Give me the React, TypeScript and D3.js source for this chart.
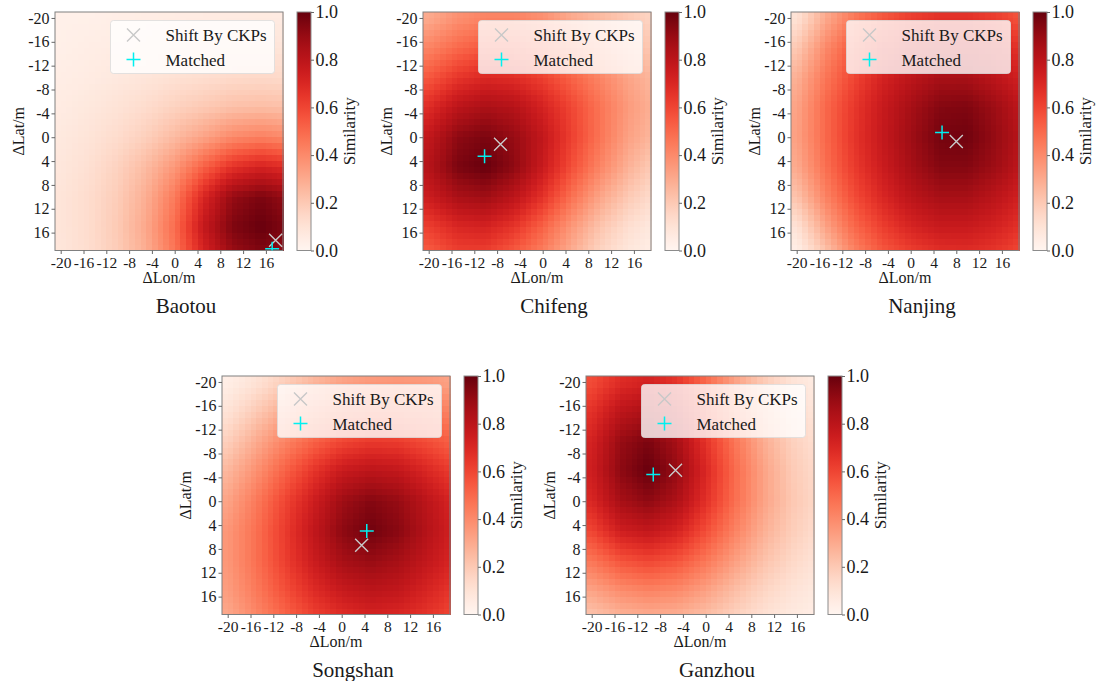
import React, { useEffect, useRef } from 'react';
import * as d3 from 'd3';

// Similarity surfaces at a 5 m node grid (rows = ΔLat, cols = ΔLon)
const sites = ['Baotou', 'Chifeng', 'Nanjing', 'Songshan', 'Ganzhou'];
const gridNodes = [-20, -15, -10, -5, 0, 5, 10, 15, 20];
const lonTicks = [-20, -16, -12, -8, -4, 0, 4, 8, 12, 16];
const latTicks = [-20, -16, -12, -8, -4, 0, 4, 8, 12, 16];
const colorbarTicks = [0, 0.2, 0.4, 0.6, 0.8, 1.0];

const baotouSim = [
  [0.03, 0.03, 0.04, 0.045, 0.05, 0.055, 0.058, 0.06, 0.058],
  [0.032, 0.045, 0.052, 0.06, 0.075, 0.085, 0.09, 0.095, 0.09],
  [0.045, 0.055, 0.073, 0.09, 0.11, 0.125, 0.14, 0.145, 0.14],
  [0.055, 0.075, 0.1, 0.13, 0.17, 0.2, 0.23, 0.24, 0.23],
  [0.07, 0.095, 0.13, 0.18, 0.25, 0.32, 0.4, 0.43, 0.4],
  [0.08, 0.115, 0.17, 0.25, 0.36, 0.52, 0.66, 0.72, 0.68],
  [0.09, 0.13, 0.19, 0.29, 0.45, 0.7, 0.9, 0.96, 0.9],
  [0.09, 0.13, 0.2, 0.31, 0.49, 0.77, 0.95, 1.0, 0.95],
  [0.085, 0.125, 0.19, 0.29, 0.46, 0.7, 0.88, 0.94, 0.9],
];
const chifengSim = [
  [0.3, 0.38, 0.42, 0.42, 0.38, 0.3, 0.25, 0.2, 0.15],
  [0.42, 0.5, 0.55, 0.55, 0.5, 0.42, 0.33, 0.25, 0.2],
  [0.55, 0.65, 0.7, 0.68, 0.62, 0.52, 0.42, 0.32, 0.25],
  [0.68, 0.8, 0.85, 0.82, 0.72, 0.6, 0.47, 0.35, 0.27],
  [0.78, 0.92, 0.96, 0.9, 0.78, 0.62, 0.47, 0.33, 0.25],
  [0.82, 0.96, 1.0, 0.92, 0.76, 0.58, 0.42, 0.28, 0.18],
  [0.75, 0.85, 0.88, 0.8, 0.66, 0.48, 0.32, 0.2, 0.12],
  [0.62, 0.7, 0.72, 0.65, 0.52, 0.36, 0.22, 0.12, 0.06],
  [0.52, 0.6, 0.6, 0.52, 0.42, 0.28, 0.15, 0.07, 0.03],
];
const nanjingSim = [
  [0.1, 0.3, 0.45, 0.55, 0.62, 0.66, 0.66, 0.62, 0.55],
  [0.2, 0.4, 0.55, 0.65, 0.72, 0.76, 0.76, 0.72, 0.65],
  [0.28, 0.46, 0.6, 0.72, 0.8, 0.86, 0.86, 0.8, 0.72],
  [0.32, 0.5, 0.64, 0.76, 0.86, 0.94, 0.95, 0.88, 0.78],
  [0.33, 0.5, 0.65, 0.77, 0.88, 0.97, 0.98, 0.9, 0.8],
  [0.3, 0.48, 0.63, 0.75, 0.86, 0.94, 0.94, 0.88, 0.78],
  [0.22, 0.42, 0.58, 0.7, 0.8, 0.86, 0.86, 0.8, 0.72],
  [0.1, 0.32, 0.5, 0.62, 0.71, 0.76, 0.76, 0.72, 0.65],
  [0.02, 0.2, 0.4, 0.53, 0.6, 0.65, 0.66, 0.63, 0.57],
];
const songshanSim = [
  [0.04, 0.1, 0.18, 0.26, 0.32, 0.35, 0.36, 0.35, 0.32],
  [0.1, 0.2, 0.3, 0.38, 0.45, 0.48, 0.48, 0.46, 0.42],
  [0.18, 0.3, 0.42, 0.52, 0.6, 0.64, 0.63, 0.58, 0.52],
  [0.26, 0.38, 0.52, 0.65, 0.76, 0.8, 0.78, 0.7, 0.62],
  [0.32, 0.45, 0.6, 0.74, 0.88, 0.94, 0.9, 0.8, 0.7],
  [0.36, 0.48, 0.63, 0.78, 0.92, 0.98, 0.93, 0.82, 0.72],
  [0.36, 0.48, 0.62, 0.75, 0.86, 0.9, 0.86, 0.78, 0.7],
  [0.34, 0.45, 0.57, 0.68, 0.76, 0.8, 0.78, 0.71, 0.64],
  [0.3, 0.4, 0.5, 0.6, 0.66, 0.7, 0.68, 0.64, 0.58],
];
const ganzhouSim = [
  [0.58, 0.68, 0.72, 0.65, 0.5, 0.33, 0.2, 0.1, 0.05],
  [0.66, 0.8, 0.85, 0.76, 0.58, 0.4, 0.25, 0.14, 0.08],
  [0.72, 0.9, 0.96, 0.86, 0.66, 0.47, 0.3, 0.18, 0.11],
  [0.74, 0.92, 1.0, 0.9, 0.7, 0.5, 0.33, 0.2, 0.13],
  [0.7, 0.86, 0.92, 0.84, 0.67, 0.49, 0.33, 0.21, 0.14],
  [0.6, 0.74, 0.78, 0.72, 0.58, 0.43, 0.29, 0.19, 0.12],
  [0.46, 0.56, 0.6, 0.56, 0.46, 0.34, 0.23, 0.15, 0.09],
  [0.32, 0.39, 0.42, 0.4, 0.33, 0.24, 0.16, 0.1, 0.06],
  [0.2, 0.25, 0.27, 0.26, 0.22, 0.16, 0.1, 0.06, 0.04],
];
const similarity = [baotouSim, chifengSim, nanjingSim, songshanSim, ganzhouSim];

// [ΔLon, ΔLat] of the two markers in each panel
const shiftByCkps = [[17.7, 17.3], [-7.4, 1.2], [8.0, 0.7], [3.5, 7.4], [-5.3, -5.2]];
const matched = [[17.1, 18.7], [-10.2, 3.2], [5.5, -0.8], [4.4, 5.0], [-9.2, -4.5]];

const FONT = "'Times New Roman', 'Liberation Serif', 'DejaVu Serif', serif";
const layout = {
  lefts: [55, 423, 791, 222, 586],
  tops: [12, 12, 12, 376, 376],
  w: 228,
  h: 238.5,
};

function sampleGrid(grid: number[][], lon: number, lat: number) {
  const idx = d3.scaleLinear().domain([gridNodes[0], gridNodes[gridNodes.length - 1]]).range([0, gridNodes.length - 1]).clamp(true);
  const fx = idx(lon), fy = idx(lat);
  const i0 = Math.min(gridNodes.length - 2, Math.floor(fx));
  const j0 = Math.min(gridNodes.length - 2, Math.floor(fy));
  const tx = fx - i0, ty = fy - j0;
  const top = grid[j0][i0] * (1 - tx) + grid[j0][i0 + 1] * tx;
  const bot = grid[j0 + 1][i0] * (1 - tx) + grid[j0 + 1][i0 + 1] * tx;
  return top * (1 - ty) + bot * ty;
}

export default function App() {
  const svgRef = useRef<SVGSVGElement>(null);

  useEffect(() => {
    document.body.style.margin = '0';
    const svg = d3.select(svgRef.current);
    svg.selectAll('*').remove();
    const { w, h } = layout;
    const color = d3.interpolateReds;
    const cells = d3.range(40).map(k => -20.5 + k);

    const defs = svg.append('defs');
    const grad = defs.append('linearGradient').attr('id', 'cbar')
      .attr('x1', 0).attr('y1', 1).attr('x2', 0).attr('y2', 0);
    d3.range(0, 1.0001, 0.05).forEach(t => {
      grad.append('stop').attr('offset', t).attr('stop-color', color(t));
    });

    const txt = (sel: any, size: number) =>
      sel.style('font-family', FONT).style('font-size', `${size}px`).attr('fill', '#1a1a1a');

    sites.forEach((site, p) => {
      const L = layout.lefts[p], T = layout.tops[p];
      const g = svg.append('g').attr('transform', `translate(${L},${T})`);
      const x = d3.scaleLinear().domain([-21, 19]).range([0, w]);
      const y = d3.scaleLinear().domain([-21, 19]).range([0, h]);

      defs.append('clipPath').attr('id', `clip${p}`)
        .append('rect').attr('width', w).attr('height', h);

      // heatmap cells
      const cellData = cells.flatMap(lat => cells.map(lon => ({ lon, lat, v: sampleGrid(similarity[p], lon, lat) })));
      g.append('g').attr('shape-rendering', 'crispEdges')
        .selectAll('rect').data(cellData).join('rect')
        .attr('x', d => x(d.lon - 0.5))
        .attr('y', d => y(d.lat - 0.5))
        .attr('width', d => x(d.lon + 0.5) - x(d.lon - 0.5) + 0.5)
        .attr('height', d => y(d.lat + 0.5) - y(d.lat - 0.5) + 0.5)
        .attr('fill', d => color(d.v));

      // frame
      g.append('rect').attr('width', w).attr('height', h)
        .attr('fill', 'none').attr('stroke', '#808080').attr('stroke-width', 1);

      // axes
      const ax = g.append('g').attr('transform', `translate(0,${h})`)
        .call(d3.axisBottom(x).tickValues(lonTicks).tickSize(3.5).tickPadding(2.5).tickFormat(d3.format('d')));
      const ay = g.append('g')
        .call(d3.axisLeft(y).tickValues(latTicks).tickSize(3.5).tickPadding(2).tickFormat(d3.format('d')));
      [ax, ay].forEach(a => {
        a.attr('font-family', null).attr('font-size', null);
        a.select('.domain').remove();
        a.selectAll('line').attr('stroke', '#666');
      });
      txt(ax.selectAll('text'), 15.5);
      txt(ay.selectAll('text'), 16);
      ax.selectAll('text').text((d: any) => (d < 0 ? '-' + Math.abs(d) : String(d)));
      ay.selectAll('text').text((d: any) => (d < 0 ? '-' + Math.abs(d) : String(d)));

      txt(g.append('text').attr('x', w / 2).attr('y', h + 32).attr('text-anchor', 'middle'), 16).text('ΔLon/m');
      txt(g.append('text').attr('transform', `translate(-31,${h / 2}) rotate(-90)`).attr('text-anchor', 'middle'), 16)
        .text('ΔLat/m');

      // markers
      const mk = g.append('g').attr('clip-path', `url(#clip${p})`);
      const drawX = (sel: any, cx: number, cy: number) => {
        const r = 6.5;
        sel.append('path').attr('d', `M${cx - r},${cy - r}L${cx + r},${cy + r}M${cx - r},${cy + r}L${cx + r},${cy - r}`)
          .attr('stroke', '#c8c8c8').attr('stroke-width', 1.4).attr('fill', 'none');
      };
      const drawPlus = (sel: any, cx: number, cy: number) => {
        const r = 7;
        sel.append('path').attr('d', `M${cx - r},${cy}L${cx + r},${cy}M${cx},${cy - r}L${cx},${cy + r}`)
          .attr('stroke', '#00f0f0').attr('stroke-width', 1.5).attr('fill', 'none');
      };
      drawX(mk, x(shiftByCkps[p][0]), y(shiftByCkps[p][1]));
      drawPlus(mk, x(matched[p][0]), y(matched[p][1]));

      // legend
      const lg = g.append('g').attr('transform', `translate(${w - 8.5 - 164},8.5)`);
      lg.append('rect').attr('width', 164).attr('height', 53).attr('rx', 3)
        .attr('fill', 'white').attr('fill-opacity', 0.8).attr('stroke', '#dcdcdc').attr('stroke-width', 0.8);
      drawX(lg, 23, 14.5);
      drawPlus(lg, 23, 39);
      txt(lg.append('text').attr('x', 55).attr('y', 20.5), 17).text('Shift By CKPs');
      txt(lg.append('text').attr('x', 55).attr('y', 45), 17).text('Matched');

      // colorbar
      const cbx = 242, cbw = 14;
      const cy = d3.scaleLinear().domain([0, 1]).range([h, 0]);
      const cb = g.append('g').attr('transform', `translate(${cbx},0)`);
      cb.append('rect').attr('width', cbw).attr('height', h).attr('fill', 'url(#cbar)')
        .attr('stroke', '#8c8c8c').attr('stroke-width', 1);
      const cax = cb.append('g').attr('transform', `translate(${cbw},0)`)
        .call(d3.axisRight(cy).tickValues(colorbarTicks).tickSize(3).tickPadding(1.5).tickFormat(d3.format('.1f')));
      cax.attr('font-family', null).attr('font-size', null);
      cax.select('.domain').remove();
      cax.selectAll('line').attr('stroke', '#666');
      txt(cax.selectAll('text'), 18);
      txt(cb.append('text').attr('transform', `translate(58,${h / 2}) rotate(-90)`).attr('text-anchor', 'middle'), 17)
        .text('Similarity');

      // title
      txt(g.append('text').attr('x', w / 2 + 17).attr('y', h + 62).attr('text-anchor', 'middle'), 21).text(site);
    });
  }, []);

  return (
    <div style={{ width: 1101, height: 681, background: 'white' }}>
      <svg ref={svgRef} width={1101} height={681} style={{ display: 'block' }} />
    </div>
  );
}
